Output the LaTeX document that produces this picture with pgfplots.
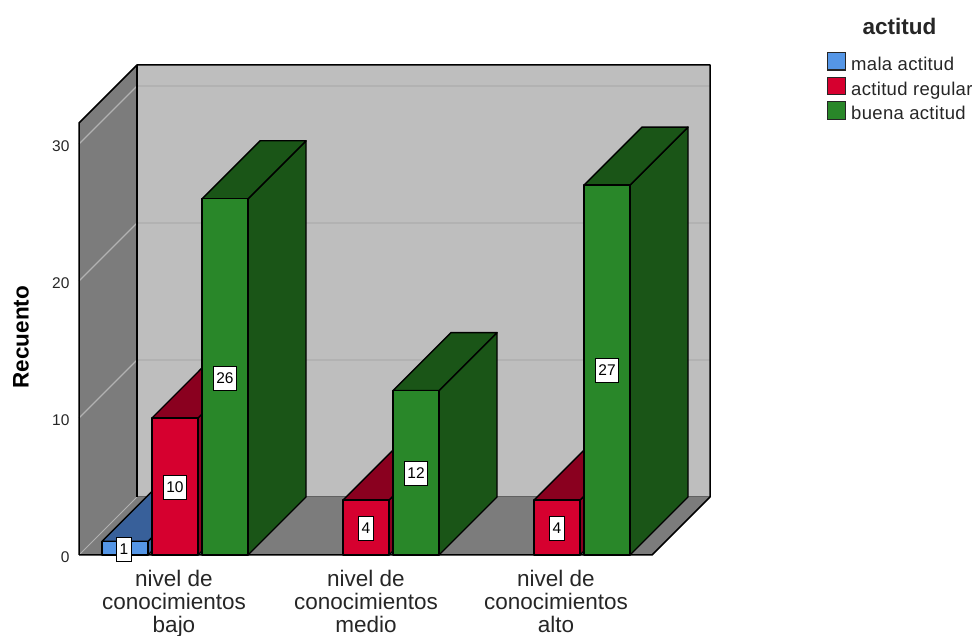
\documentclass[border=0pt]{standalone}
\usepackage{fontspec}
\setmainfont{Liberation Sans}
\usepackage{pgfplots}
\pgfplotsset{compat=1.18}
\definecolor{cblue}{HTML}{5596E6}
\definecolor{cbluedk}{HTML}{38609A}
\definecolor{cred}{HTML}{D6002F}
\definecolor{creddk}{HTML}{8A001F}
\definecolor{cgreen}{HTML}{298729}
\definecolor{cgreendk}{HTML}{1A5517}
\definecolor{cwall}{HTML}{BEBEBE}
\definecolor{cside}{HTML}{7C7C7C}
\definecolor{ctext}{HTML}{262626}
\newcommand{\polyfill}[2]{\addplot[forget plot,fill=#1,draw=black,line width=1.4pt,line join=round] coordinates {#2} -- cycle;}
% one 3-D bar: left edge (px), value, front colour, dark colour
\newcommand{\threedbar}[4]{%
  \pgfmathsetmacro{\xa}{#1}\pgfmathsetmacro{\xb}{#1+46}%
  \pgfmathsetmacro{\xc}{#1+46+58}\pgfmathsetmacro{\xd}{#1+58}%
  \pgfmathsetmacro{\yt}{#2+4.234}%
  \edef\temp{\noexpand\polyfill{#4}{(\xb,0)(\xc,4.234)(\xc,\yt)(\xb,#2)}}\temp
  \edef\temp{\noexpand\polyfill{#4}{(\xa,#2)(\xb,#2)(\xc,\yt)(\xd,\yt)}}\temp
  \edef\temp{\noexpand\polyfill{#3}{(\xa,0)(\xb,0)(\xb,#2)(\xa,#2)}}\temp
}
\begin{document}
\begin{tikzpicture}[x=1pt,y=1pt]
\path[use as bounding box] (0,0) rectangle (972,636);
\begin{axis}[
  at={(79pt,81pt)},anchor=south west,
  scale only axis,width=573pt,height=432pt,
  xmin=79,xmax=652,ymin=0,ymax=31.533,
  clip=false,
  axis line style={draw=none},
  axis x line=bottom,axis y line=left,
  tick style={draw=none},major tick length=0pt,
  xtick={174,366,556},
  xticklabels={{nivel de\\conocimientos\\bajo},{nivel de\\conocimientos\\medio},{nivel de\\conocimientos\\alto}},
  xticklabel style={align=center,font=\fontsize{22.5}{23.2}\selectfont,text=ctext,yshift=-11.2pt},
  ytick={0,10,20,30},
  yticklabel style={font=\fontsize{15.5}{16}\selectfont,text=ctext,/pgf/number format/assume math mode=true,xshift=-6pt,yshift=-2.5pt},
  ylabel={\textbf{Recuento}},
  every axis y label/.style={at={(axis cs:21,15.9)},rotate=90,anchor=center,font=\fontsize{22.5}{24}\selectfont},
  legend style={at={(axis cs:827,36.72)},anchor=north west,draw=none,fill=none,inner sep=0pt,outer sep=0pt,
    font=\fontsize{18.5}{20}\selectfont\addfontfeature{LetterSpace=1.7},text=ctext,
    row sep=2pt,
    /tikz/every even column/.append style={column sep=0pt},
    nodes={text height=14pt,text depth=4pt,inner sep=0pt,inner xsep=5pt}},
  legend cell align=left,
  legend image code/.code={\draw[#1,draw=black!85,line width=1.2pt] (0pt,-4.5pt) rectangle (18pt,13pt);},
]
\addlegendimage{fill=cblue}\addlegendentry{mala actitud}
\addlegendimage{fill=cred}\addlegendentry{actitud regular}
\addlegendimage{fill=cgreen}\addlegendentry{buena actitud}
% walls and floor
\addplot[forget plot,fill=cwall,draw=none] coordinates {(137,4.234)(710,4.234)(710,35.766)(137,35.766)} -- cycle;
\addplot[forget plot,fill=cside,draw=none] coordinates {(79,0)(137,4.234)(137,35.766)(79,31.533)} -- cycle;
\addplot[forget plot,fill=cside,draw=none] coordinates {(79,0)(652,0)(710,4.234)(137,4.234)} -- cycle;
% grid
\pgfplotsinvokeforeach{10,20,30}{
\addplot[forget plot,color=black!30,line width=1.2pt] coordinates {(79,#1)(137,#1+4.234)};
\addplot[forget plot,color=black!30,line width=1.2pt] coordinates {(137,#1+4.234)(710,#1+4.234)};
}
\addplot[forget plot,color=black!30,line width=1pt] coordinates {(79,0)(137,4.234)};
\addplot[forget plot,color=black!62,line width=1pt] coordinates {(137,4.234)(710,4.234)};
% frame
\addplot[forget plot,color=black,line width=1.5pt,line join=round] coordinates {(79,0)(79,31.533)(137,35.766)(710,35.766)(710,4.234)(652,0)(79,0)};
\addplot[forget plot,color=black,line width=1.5pt] coordinates {(137,4.234)(137,35.766)};
% bars
\threedbar{102}{1}{cblue}{cbluedk}
\threedbar{152}{10}{cred}{creddk}
\threedbar{202}{26}{cgreen}{cgreendk}
\threedbar{343}{4}{cred}{creddk}
\threedbar{393}{12}{cgreen}{cgreendk}
\threedbar{534}{4}{cred}{creddk}
\threedbar{584}{27}{cgreen}{cgreendk}
% value labels
\addplot[forget plot,draw=none,mark=none,
  point meta=explicit symbolic,
  nodes near coords,
  nodes near coords style={anchor=center,draw=black,fill=white,line width=1pt,inner sep=0pt,
    minimum height=24pt,minimum width=14pt,inner xsep=3pt,font=\fontsize{15.5}{16}\selectfont,text=black},
] coordinates {
 (124,0.41)[1] (175,4.93)[10] (225,12.9)[26]
 (366,1.97)[4] (416,5.95)[12]
 (557,1.97)[4] (607,13.5)[27]
};
\node[anchor=center,font=\fontsize{22.5}{24}\selectfont\bfseries,text=ctext] at (axis cs:899.5,38.55) {actitud};
\end{axis}
\end{tikzpicture}
\end{document}
